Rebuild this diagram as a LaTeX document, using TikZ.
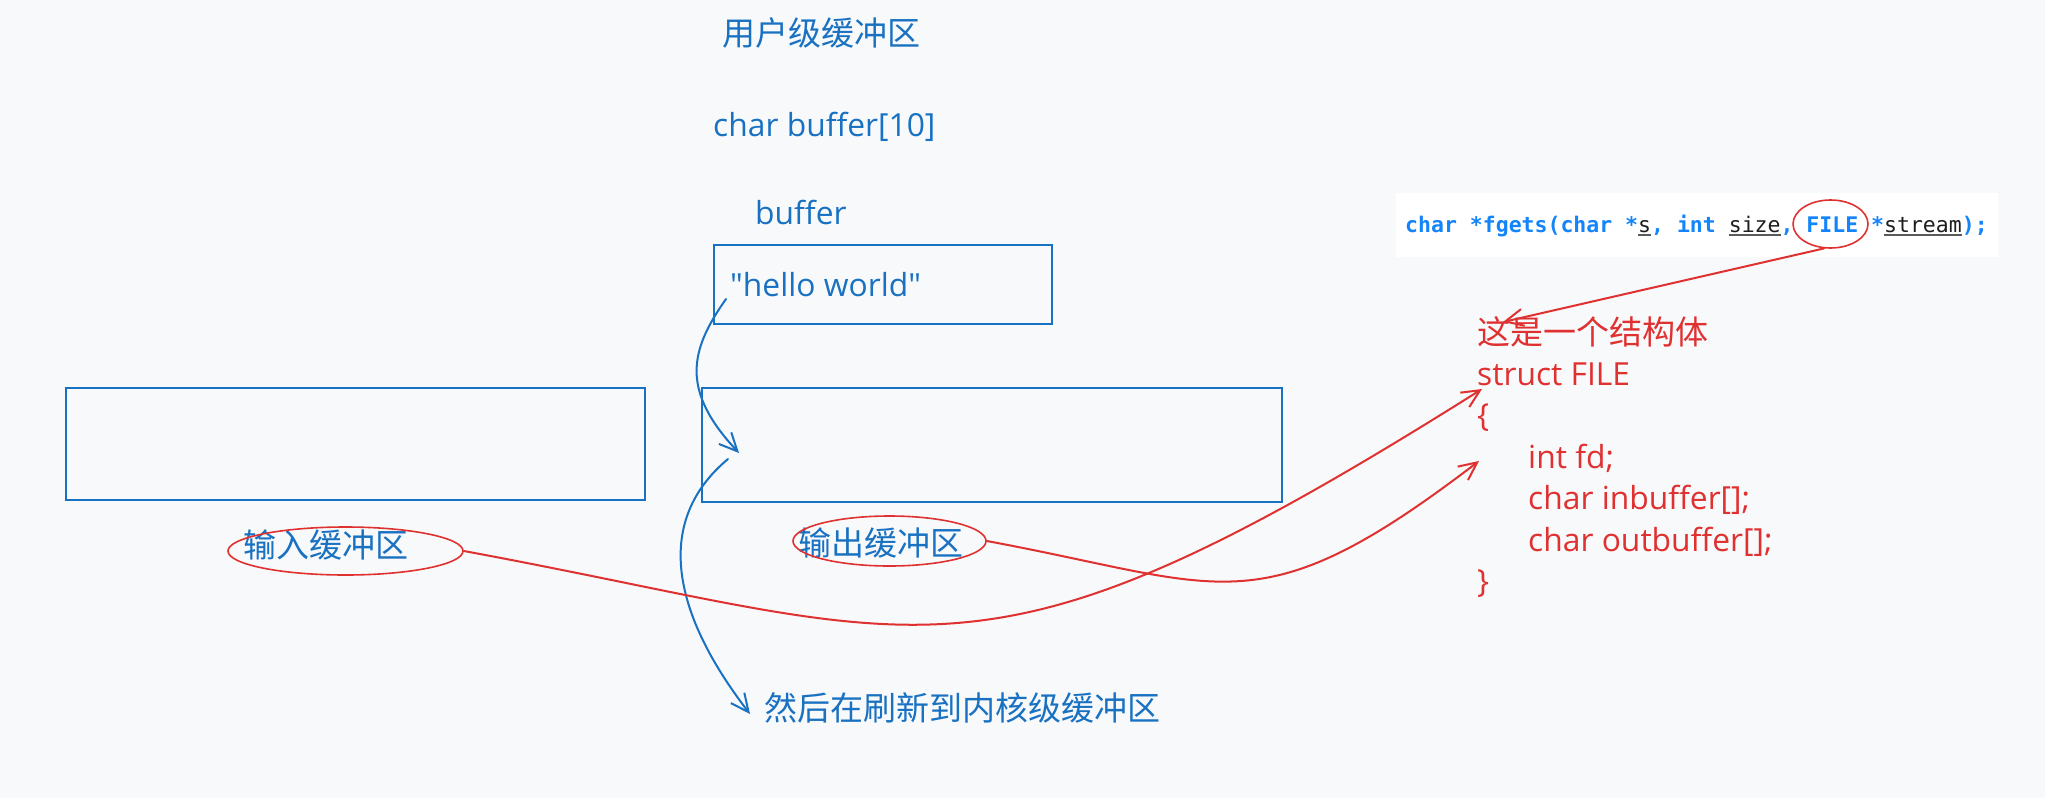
\documentclass[tikz,border=0pt]{standalone}
\usepackage{fontspec}
\setmainfont{Open Sans}[Ligatures=TeXOff]
\newfontfamily\cjkf{Noto Sans CJK SC}
\newfontfamily\codef{DejaVu Sans Mono}
\usetikzlibrary{arrows.meta,shapes.geometric}
\definecolor{bg}{RGB}{248,249,251}
\definecolor{xblue}{RGB}{25,113,194}
\definecolor{xred}{RGB}{224,49,49}
\definecolor{codeblue}{RGB}{20,132,250}
\definecolor{codeink}{RGB}{30,30,30}
\definecolor{ulink}{RGB}{90,90,90}
\newcommand\codeul[1]{{\mdseries\color{codeink}\vtop{\hbox{#1}\kern2pt{\color{ulink}\hrule height 1.8pt}}}}
\begin{document}
\begin{tikzpicture}[x=1pt,y=-1pt,
  lat/.style={font=\fontsize{31.8pt}{36pt}\selectfont, inner sep=0pt, anchor=base west},
  cjk/.style={font=\fontsize{33pt}{38pt}\selectfont\cjkf, inner sep=0pt, anchor=base west},
  bluet/.style={text=xblue},
  redt/.style={text=xred},
  bbox/.style={draw=xblue, line width=2pt, rectangle, inner sep=0pt, anchor=north west},
  rell/.style={ellipse, draw=xred, line width=1.6pt, inner sep=0pt},
  barrow/.style={draw=xblue, line width=2pt, line cap=round, -{Straight Barb[length=18pt,width=17pt,line width=2pt]}},
  rarrow/.style={draw=xred, line width=2pt, line cap=round, -{Straight Barb[length=18pt,width=17pt,line width=2pt]}},
]
\fill[bg] (0,0) rectangle (2045,798);
\useasboundingbox (0,0) rectangle (2045,798);

% blue texts
\node[cjk,bluet] (ubuf) at (722,45) {用户级缓冲区};
\node[lat,bluet] (decl) at (713,136) {char buffer[10]};
\node[lat,bluet] (bufname) at (755,224) {buffer};

% boxes
\node[bbox, minimum width=338pt, minimum height=79pt] (topbox) at (713,244) {};
\node[lat,bluet] (hello) at (730,296) {"hello world"};
\node[bbox, minimum width=579pt, minimum height=112pt] (inbox) at (65,387) {};
\node[bbox, minimum width=580pt, minimum height=114pt] (outbox) at (701,387) {};

% buffer labels with red ellipses
\node[cjk,bluet] (inlabel) at (243,557) {输入缓冲区};
\node[cjk,bluet] (outlabel) at (798,555) {输出缓冲区};
\node[rell, minimum width=235pt, minimum height=48pt] (inEl) at (345.5,551) {};
\node[rell, minimum width=193pt, minimum height=50pt] (outEl) at (889.5,541) {};

% kernel text
\node[cjk,bluet] (kernel) at (764,720) {然后在刷新到内核级缓冲区};

% code box
\node[fill=white, rectangle, inner sep=0pt, anchor=north west, minimum width=602pt, minimum height=64pt] (codebox) at (1396,193) {};
\node[inner sep=0pt, anchor=base west, text=codeblue, font=\fontsize{21.5pt}{26pt}\selectfont\codef\bfseries] (code) at (1405,232)
  {char *fgets(char *\codeul{s}, int \codeul{size}, FILE *\codeul{stream});};
\node[rell, minimum width=75pt, minimum height=48pt] (fileEl) at (1830.5,224) {};

% red struct text
\node[cjk,redt] (note) at (1477,344) {这是一个结构体};
\node[lat,redt] (sname) at (1477,385) {struct FILE};
\node[lat,redt] (lbrace) at (1477,426.5) {\{};
\node[lat,redt] (fd) at (1528,468) {int fd;};
\node[lat,redt] (inb) at (1528,509.5) {char inbuffer[];};
\node[lat,redt] (outb) at (1528,551) {char outbuffer[];};
\node[lat,redt] (rbrace) at (1477,592.5) {\}};

% connector endpoints
\coordinate (b1s) at (726,299);
\coordinate (b1e) at (739,453);
\coordinate (b2s) at (728,459);
\coordinate (b2e) at (750,714);
\coordinate (r1e) at (1482,389);
\coordinate (r2e) at (1479,461);
\coordinate (r3e) at (1503,322);

% blue arrows
\draw[barrow] (b1s) .. controls (690,350) and (680,390) .. (b1e);
\draw[barrow] (b2s) .. controls (655,520) and (670,610) .. (b2e);

% red arrows
\draw[rarrow] (inEl.east) .. controls (935,638) and (974,709) .. (r1e);
\draw[rarrow] (outEl.east) .. controls (1225,585) and (1258,630) .. (r2e);
\draw[rarrow] (fileEl.-105) -- (r3e);
\end{tikzpicture}
\end{document}
